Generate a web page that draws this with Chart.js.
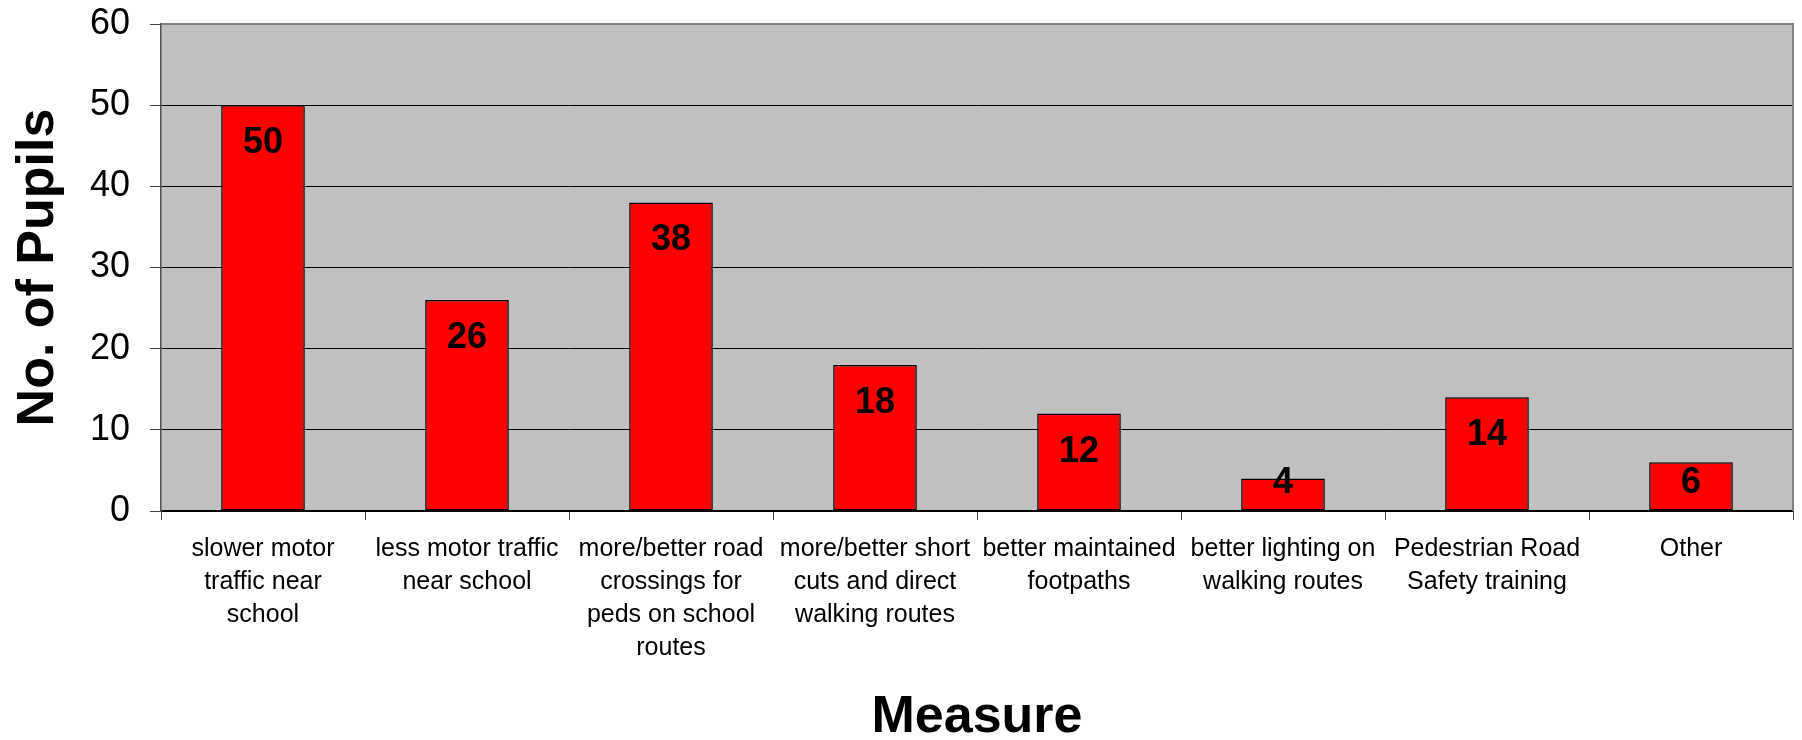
<!DOCTYPE html>
<html>
<head>
<meta charset="utf-8">
<script src="https://cdn.jsdelivr.net/npm/chart.js@4/dist/chart.umd.min.js"></script>
<style>
  html, body { margin: 0; padding: 0; background: #ffffff; }
  #wrap { width: 1802px; height: 740px; }
</style>
</head>
<body>
<div id="wrap"><canvas id="c" width="1802" height="740"></canvas></div>
<script>
const categories = [
  ["slower motor", "traffic near", "school"],
  ["less motor traffic", "near school"],
  ["more/better road", "crossings for", "peds on school", "routes"],
  ["more/better short", "cuts and direct", "walking routes"],
  ["better maintained", "footpaths"],
  ["better lighting on", "walking routes"],
  ["Pedestrian Road", "Safety training"],
  ["Other"]
];
const pupils = [50, 26, 38, 18, 12, 4, 14, 6];
const yTicks = [0, 10, 20, 30, 40, 50, 60];
const xTitle = "Measure";
const yTitle = "No. of Pupils";

const FONT = "'Liberation Sans', Arial, Helvetica, sans-serif";

const plotBg = {
  id: 'plotBg',
  beforeDraw(chart) {
    const {ctx, chartArea: a} = chart;
    ctx.save();
    ctx.fillStyle = '#c0c0c0';
    ctx.fillRect(a.left, a.top, a.right - a.left, a.bottom - a.top);
    ctx.restore();
  },
  afterDraw(chart) {
    const {ctx, chartArea: a} = chart;
    ctx.save();
    ctx.strokeStyle = '#808080';
    ctx.lineWidth = 2;
    ctx.beginPath();
    ctx.moveTo(a.left, a.top);
    ctx.lineTo(a.right, a.top);
    ctx.lineTo(a.right, a.bottom);
    ctx.stroke();
    ctx.restore();
  }
};

const barLabels = {
  id: 'barLabels',
  afterDatasetsDraw(chart) {
    const {ctx} = chart;
    const meta = chart.getDatasetMeta(0);
    ctx.save();
    ctx.font = "bold 36px " + FONT;
    ctx.fillStyle = '#000';
    ctx.textAlign = 'center';
    ctx.textBaseline = 'middle';
    meta.data.forEach((bar, i) => {
      const top = bar.y, base = bar.base;
      const cy = Math.min(top + 37, base - 28);
      ctx.fillText(String(chart.data.datasets[0].data[i]), bar.x, cy + 1);
    });
    ctx.restore();
  }
};

new Chart(document.getElementById('c'), {
  type: 'bar',
  data: {
    labels: categories,
    datasets: [{
      data: pupils,
      backgroundColor: '#ff0000',
      borderColor: '#000000',
      borderWidth: 1.5,
      borderSkipped: false,
      categoryPercentage: 1.0,
      barPercentage: 0.41
    }]
  },
  options: {
    responsive: false,
    animation: false,
    devicePixelRatio: 1,
    layout: { padding: { left: 0, right: 9, top: 24, bottom: 0 } },
    plugins: {
      legend: { display: false },
      tooltip: { enabled: false }
    },
    scales: {
      x: {
        grid: {
          display: true,
          drawOnChartArea: false,
          drawTicks: true,
          tickLength: 9,
          color: '#404040',
          offset: true
        },
        border: { display: true, color: '#000000', width: 1.5 },
        ticks: {
          color: '#000',
          font: { family: FONT, size: 25, lineHeight: 1.32 },
          padding: 13,
          maxRotation: 0,
          autoSkip: false
        },
        title: {
          display: true,
          text: xTitle,
          color: '#000',
          font: { family: FONT, size: 52, weight: 'bold', lineHeight: 0.85 },
          padding: { top: 0, bottom: 0 }
        },
        afterFit(scale) {
          scale.height = 229;
          scale.paddingLeft = 0; scale.paddingRight = 0;
          scale.paddingTop = 0; scale.paddingBottom = 0;
        }
      },
      y: {
        min: 0,
        max: 60,
        afterBuildTicks(scale) { scale.ticks = yTicks.map(v => ({ value: v })); },
        grid: {
          color: '#000000',
          lineWidth: 1,
          tickLength: 11,
          tickColor: '#404040',
          drawTicks: true
        },
        border: { display: true, color: '#505050', width: 1.5 },
        ticks: {
          color: '#000',
          font: { family: FONT, size: 36 },
          padding: 20
        },
        title: {
          display: true,
          text: yTitle,
          color: '#000',
          font: { family: FONT, size: 52, weight: 'bold', lineHeight: 1 },
          padding: { top: 13, bottom: 0 }
        },
        afterFit(scale) {
          scale.width = 161;
          scale.paddingLeft = 0; scale.paddingRight = 0;
          scale.paddingTop = 0; scale.paddingBottom = 0;
        }
      }
    }
  },
  plugins: [plotBg, barLabels]
});
</script>
</body>
</html>
